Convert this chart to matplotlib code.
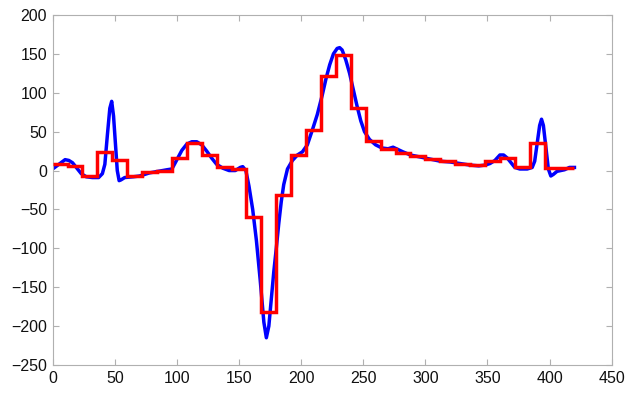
import numpy as np
from matplotlib import pyplot as plt

# blue signal (sample index, value)
sig_x = [0, 5, 10, 13, 16, 20, 23, 27, 32, 37, 40, 42, 44, 46, 47.5, 49, 50.5, 52, 53.5, 55,
         58, 65, 70, 78, 85, 92, 96, 100, 104, 108, 112, 116, 120, 124, 128, 132, 137, 142, 147, 151,
         153, 155.5, 158, 161, 164, 167, 170, 172, 174, 176, 178, 180, 182, 184, 186, 189, 193, 197, 201, 205,
         209, 213, 217, 220, 223, 226, 229, 231, 233, 236, 239, 242, 245, 248, 251, 255, 260, 265, 270, 274,
         278, 282, 288, 294, 300, 306, 312, 320, 328, 336, 343, 348, 352, 356, 360, 363, 366, 369, 372, 376,
         382, 386, 388, 390, 392, 393.5, 395, 397, 399, 401, 403, 406, 412, 416, 420]
sig_y = [2, 8, 14, 13, 10, 2, -4, -8, -9, -9, -4, 8, 45, 80, 89, 70, 35, 0, -13, -12,
         -9, -8, -7, -3, -1, 1, 2, 14, 26, 34, 37, 37, 33, 25, 16, 8, 3, 0, 0, 4,
         5, 0, -20, -50, -90, -140, -195, -215, -200, -165, -130, -100, -68, -40, -18, 2, 13, 20, 24, 33,
         52, 72, 97, 118, 136, 150, 157, 158, 155, 142, 125, 104, 83, 64, 50, 40, 33, 29, 28, 30,
         27, 24, 20, 18, 16, 14, 12, 11, 9, 7, 6, 7, 9, 13, 20, 20, 16, 10, 4, 2,
         2, 4, 12, 35, 58, 66, 58, 30, 2, -7, -5, -1, 1, 4, 4]

# red piecewise means, one value per 12-sample segment
seg_width = 12
seg_means = [8, 6, -7, 24, 13, -7, -2, 0, 16, 36, 20, 4, 2, -60, -182, -31, 20, 52,
             122, 148, 80, 38, 28, 23, 19, 15, 12, 9, 7, 12, 16, 5, 36, 3, 3]
seg_edges = np.arange(len(seg_means) + 1) * seg_width

plt.rcParams['font.family'] = ['Liberation Sans', 'DejaVu Sans']

fig = plt.figure(figsize=(6.4, 4.05), dpi=100, facecolor='white')
ax = fig.add_axes([0.0823, 0.0988, 0.8735, 0.8642])

ax.plot(sig_x, sig_y, color='#0000ff', lw=2.5, zorder=2)
ax.stairs(seg_means, seg_edges, baseline=None, color='#ff0000', lw=2.5, zorder=3)

ax.set_xlim(0, 450)
ax.set_ylim(-250, 200)
ax.set_xticks(range(0, 451, 50))
ax.set_yticks(range(-250, 201, 50))

for s in ax.spines.values():
    s.set_color('#b0b0b0')
    s.set_linewidth(0.8)
ax.tick_params(direction='in', length=4, width=0.8, color='#b0b0b0',
               top=True, right=True, labelsize=11.5, labelcolor='#111111', pad=4)

fig.savefig('out.png', dpi=100, facecolor='white')
